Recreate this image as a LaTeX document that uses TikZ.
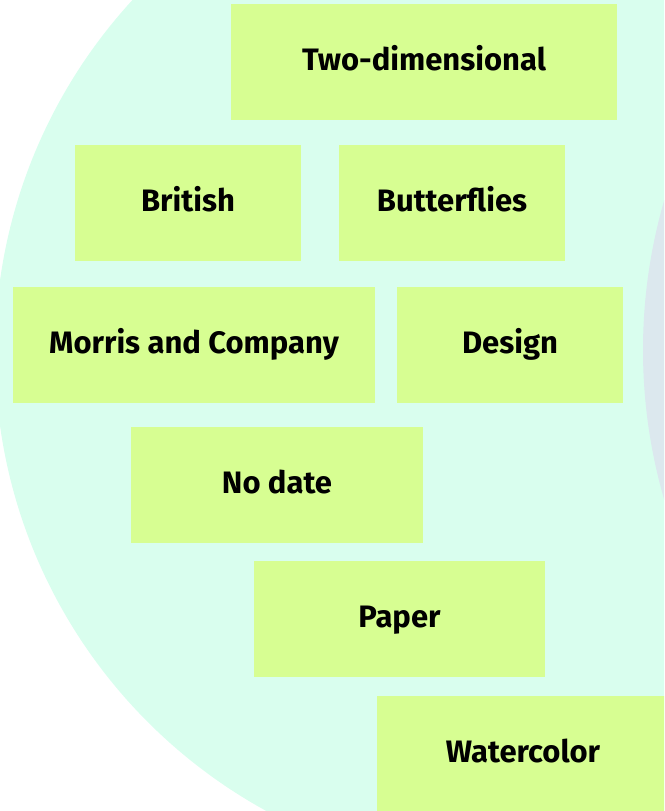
\documentclass[tikz,border=0pt]{standalone}
\usepackage{fontspec}
\setmainfont{Fira Sans}
\usetikzlibrary{positioning}
\definecolor{mintbg}{HTML}{D9FEEE}
\definecolor{greybg}{HTML}{DCE8EE}
\definecolor{tagfill}{HTML}{D7FE92}
\tikzset{
  % keyword boxes
  tag/.style={fill=tagfill, minimum height=116pt, inner sep=0pt,
    text height=21.5pt, text depth=4.5pt,
    font=\fontsize{31}{36}\selectfont\bfseries},
}

\begin{document}
\begin{tikzpicture}[x=1pt,y=-1pt]
            \useasboundingbox (0,0) rectangle (664,811);
            \clip (0,0) rectangle (664,811);
            \fill[mintbg] (517,353) circle (522pt);
            \fill[greybg] (1178,350) circle (535pt);

            \node[tag, minimum width=386pt] (twodim) at (424,62) {Two-dimensional};
            \node[tag, minimum width=226pt] (british) at (188,203) {British};
            \node[tag, minimum width=226pt] (butterflies) at (452,203) {Butterflies};
            \node[tag, minimum width=362pt] (morris) at (194,344.5) {Morris and Company};
            \node[tag, minimum width=226pt] (design) at (510,344.5) {Design};
            \node[tag, minimum width=292pt] (nodate) at (277,485) {No date};
            \node[tag, minimum width=291pt] (paper) at (399.5,619) {Paper};
            \node[tag, minimum width=292pt] (watercolor) at (523,754) {Watercolor};
        \end{tikzpicture}
\end{document}
